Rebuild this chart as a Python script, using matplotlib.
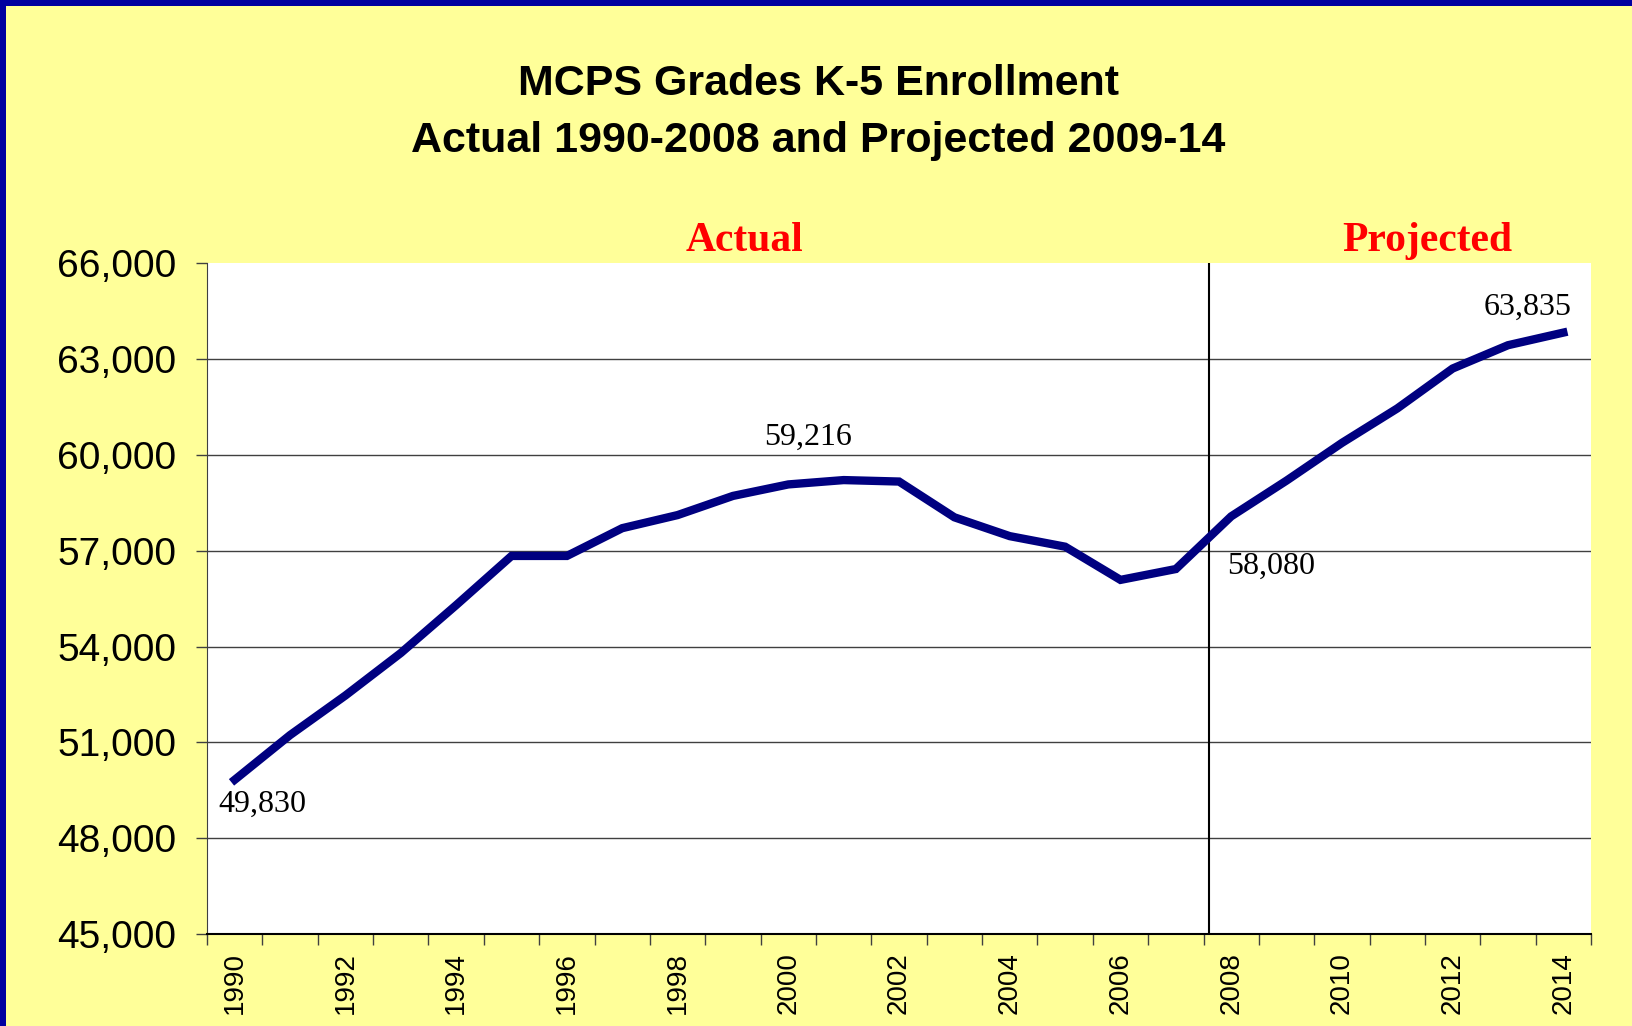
import matplotlib
matplotlib.use("Agg")
import matplotlib.pyplot as plt
from matplotlib.patches import Rectangle
import numpy as np

# enrollment data
years = list(range(1990, 2015))
enrollment = [49830, 51230, 52470, 53800, 55300, 56840, 56840, 57710, 58120,
              58720, 59080, 59216, 59170, 58050, 57460, 57130, 56090, 56430,
              58080, 59200, 60380, 61460, 62710, 63440, 63835]
labelled_years = [1990, 2001, 2008, 2014]
y_ticks = [45000, 48000, 51000, 54000, 57000, 60000, 63000, 66000]

sans = ["Liberation Sans", "DejaVu Sans"]
serif = ["Liberation Serif", "DejaVu Serif"]

fig = plt.figure(figsize=(16.33, 10.26), dpi=100, facecolor="#FFFF99")
ax = fig.add_axes([0.1268, 0.0897, 0.8475, 0.6535])
ax.set_facecolor("white")

x = np.arange(len(years))
ax.plot(x, enrollment, color="#000080", linewidth=6, solid_joinstyle="miter", zorder=3)

# axes
ax.set_xlim(-0.5, len(years) - 0.5)
ax.set_ylim(45000, 66000)
ax.set_yticks(y_ticks)
ax.set_yticklabels([f"{v:,}" for v in y_ticks], family=sans, fontsize=28)
ax.tick_params(axis="y", direction="out", length=8, width=1, color="#404040", pad=14)
for v in y_ticks[1:-1]:
    ax.axhline(v, color="#404040", linewidth=1, zorder=1)

ax.set_xticks(np.arange(-0.5, len(years), 1))
ax.set_xticklabels([])
ax.tick_params(axis="x", which="major", direction="out", length=8, width=1, color="#404040")
ax.set_xticks(x[::2], minor=True)
ax.set_xticklabels([str(y) for y in years[::2]], minor=True, rotation=90,
                   family=sans, fontsize=20)
ax.tick_params(axis="x", which="minor", length=0, pad=13)

for s in ["top", "right"]:
    ax.spines[s].set_visible(False)
ax.spines["left"].set_color("#404040")
ax.spines["bottom"].set_color("black")
ax.spines["bottom"].set_linewidth(1.5)

# actual / projected divider
ax.axvline(17.6, color="black", linewidth=1.5, zorder=2)

# data labels
offsets = {1990: (20, -18), 2001: (-26, 31), 2008: (29, -36), 2014: (-26, 18)}
for yr in labelled_years:
    i = years.index(yr)
    ax.annotate(f"{enrollment[i]:,}", (i, enrollment[i]), xytext=offsets[yr],
                textcoords="offset points", ha="center", va="center",
                family=serif, fontsize=23)

# titles
fig.text(0.501, 0.918, "MCPS Grades K-5 Enrollment", ha="center", va="center",
         family=sans, fontsize=31, fontweight="bold")
fig.text(0.501, 0.863, "Actual 1990-2008 and Projected 2009-14", ha="center", va="center",
         family=sans, fontsize=31, fontweight="bold")
fig.text(0.456, 0.765, "Actual", ha="center", va="center", family=serif,
         fontsize=30, fontweight="bold", color="#FF0000")
fig.text(0.874, 0.765, "Projected", ha="center", va="center", family=serif,
         fontsize=30, fontweight="bold", color="#FF0000")

# blue frame on top and left edges
fig.patches.append(Rectangle((0, 1 - 6 / 1026), 1, 6 / 1026, transform=fig.transFigure,
                             facecolor="#0000A0", edgecolor="none"))
fig.patches.append(Rectangle((0, 0), 6 / 1633, 1, transform=fig.transFigure,
                             facecolor="#0000A0", edgecolor="none"))

fig.savefig("out.png", dpi=100, facecolor=fig.get_facecolor())
